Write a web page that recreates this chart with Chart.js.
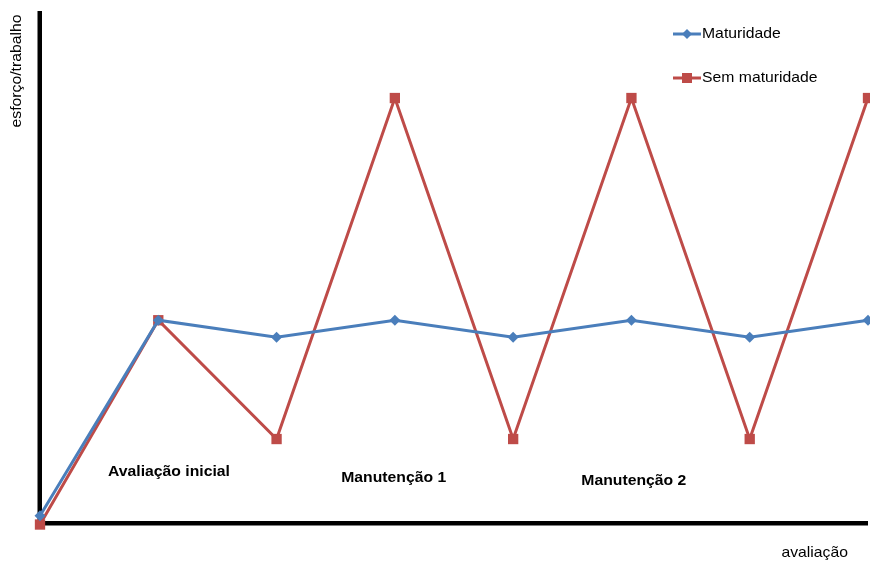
<!DOCTYPE html>
<html>
<head>
<meta charset="utf-8">
<script src="https://cdn.jsdelivr.net/npm/chart.js@4/dist/chart.umd.min.js"></script>
<style>
  html, body { margin: 0; padding: 0; background: #fff; }
  #wrap { width: 870px; height: 561px; position: relative; }
</style>
</head>
<body>
<div id="wrap"><canvas id="c" width="870" height="561"></canvas></div>
<script>
// Evaluation steps along the x axis
const steps = ['0', '1', '2', '3', '4', '5', '6', '7'];
// Effort / work per step
const maturidade = [1.4, 39.6, 36.3, 39.6, 36.3, 39.6, 36.3, 39.6];
const semMaturidade = [-0.3, 39.6, 16.4, 83.0, 16.4, 83.0, 16.4, 83.0];
const seriesNames = ['Maturidade', 'Sem maturidade'];
// Phase captions under the curves: [text, step position, value position]
const phases = [
  ['Avaliação inicial', 1.09, 9.2],
  ['Manutenção 1', 2.99, 8.0],
  ['Manutenção 2', 5.02, 7.5]
];
const yTitle = 'esforço/trabalho';
const xTitle = 'avaliação';

const BLUE = '#4A7EBB';
const RED = '#BE4B48';
const FONT = '"Liberation Sans", Arial, sans-serif';

function stretchedText(ctx, txt, x, y, sx) {
  ctx.save();
  ctx.translate(x, y);
  ctx.scale(sx, 1);
  ctx.fillText(txt, 0, 0);
  ctx.restore();
}

const decor = {
  id: 'decor',
  beforeDatasetsDraw(chart) {
    const { ctx, chartArea: a, scales } = chart;
    ctx.save();
    ctx.fillStyle = '#000';
    // axes
    ctx.fillRect(a.left - 2.5, a.top, 4.5, a.bottom - a.top + 2.5);
    ctx.fillRect(a.left - 2.5, a.bottom - 2, a.right - a.left + 2.5, 4.5);
    // phase captions
    ctx.font = 'bold 15px ' + FONT;
    ctx.textAlign = 'center';
    ctx.textBaseline = 'alphabetic';
    phases.forEach(p => {
      const x = scales.x.getPixelForValue(p[1]);
      const y = scales.y.getPixelForValue(p[2]);
      stretchedText(ctx, p[0], x, y, 1.05);
    });
    // axis titles
    ctx.font = '15px ' + FONT;
    ctx.textAlign = 'right';
    stretchedText(ctx, xTitle, 848, 557, 1.05);
    ctx.save();
    ctx.translate(21, 71);
    ctx.rotate(-Math.PI / 2);
    ctx.scale(1.05, 1);
    ctx.textAlign = 'center';
    ctx.fillText(yTitle, 0, 0);
    ctx.restore();
    ctx.restore();
  },
  afterDatasetsDraw(chart) {
    const { ctx } = chart;
    // legend
    const rows = [
      { name: seriesNames[0], color: BLUE, y: 34, marker: 'diamond' },
      { name: seriesNames[1], color: RED, y: 78, marker: 'square' }
    ];
    ctx.save();
    rows.forEach(r => {
      ctx.strokeStyle = r.color;
      ctx.fillStyle = r.color;
      ctx.lineWidth = 3;
      ctx.beginPath();
      ctx.moveTo(673, r.y);
      ctx.lineTo(701, r.y);
      ctx.stroke();
      if (r.marker === 'diamond') {
        ctx.beginPath();
        ctx.moveTo(687, r.y - 5);
        ctx.lineTo(692, r.y);
        ctx.lineTo(687, r.y + 5);
        ctx.lineTo(682, r.y);
        ctx.closePath();
        ctx.fill();
      } else {
        ctx.fillRect(682, r.y - 5, 10, 10);
      }
      ctx.fillStyle = '#000';
      ctx.font = '15px ' + FONT;
      ctx.textAlign = 'left';
      ctx.textBaseline = 'middle';
      stretchedText(ctx, r.name, 702, r.y, 1.05);
    });
    ctx.restore();
  }
};

new Chart(document.getElementById('c'), {
  type: 'line',
  data: {
    labels: steps,
    datasets: [
      {
        label: seriesNames[0],
        data: maturidade,
        borderColor: BLUE,
        backgroundColor: BLUE,
        borderWidth: 3,
        pointStyle: 'rectRot',
        pointRadius: 5.5,
        pointBorderWidth: 0,
        tension: 0,
        clip: false
      },
      {
        label: seriesNames[1],
        data: semMaturidade,
        borderColor: RED,
        backgroundColor: RED,
        borderWidth: 3,
        pointStyle: 'rect',
        pointRadius: 7.3,
        pointBorderWidth: 0,
        tension: 0,
        clip: false
      }
    ]
  },
  options: {
    responsive: false,
    animation: false,
    layout: { autoPadding: false, padding: { left: 40, top: 11, right: 2, bottom: 38 } },
    plugins: { legend: { display: false }, tooltip: { enabled: false } },
    scales: {
      x: { display: false, offset: false },
      y: { display: false, min: 0, max: 100 }
    }
  },
  plugins: [decor]
});
</script>
</body>
</html>
